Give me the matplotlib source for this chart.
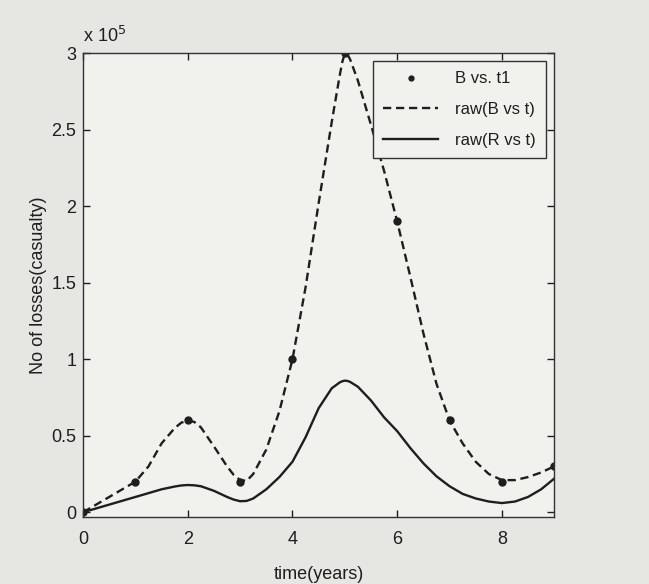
import numpy as np
import matplotlib.pyplot as plt

plt.rcParams['font.family'] = ['Liberation Sans', 'DejaVu Sans']

# sample points (values in units of 1e5)
t1 = [0, 1, 2, 3, 4, 5, 6, 7, 8, 9]
B = [0, 0.2, 0.6, 0.2, 1.0, 3.0, 1.9, 0.6, 0.2, 0.3]

# curves
t = [0, 0.25, 0.5, 0.75, 1, 1.25, 1.5, 1.75, 1.875, 2, 2.125, 2.25, 2.5, 2.75,
     2.875, 3, 3.125, 3.25, 3.5, 3.75, 4, 4.25, 4.5, 4.75, 4.9, 4.95, 5, 5.05,
     5.1, 5.25, 5.5, 5.75, 6, 6.25, 6.5, 6.75, 7, 7.25, 7.5, 7.75, 8, 8.25, 8.5,
     8.75, 9]
raw_B = [0, 0.05, 0.10, 0.15, 0.20, 0.30, 0.45, 0.55, 0.585, 0.60, 0.59, 0.555,
         0.43, 0.30, 0.245, 0.21, 0.205, 0.25, 0.41, 0.66, 1.00, 1.47, 2.02,
         2.55, 2.85, 2.94, 3.00, 2.99, 2.96, 2.82, 2.53, 2.23, 1.90, 1.54, 1.17,
         0.84, 0.60, 0.45, 0.33, 0.25, 0.21, 0.21, 0.23, 0.26, 0.30]
raw_R = [0, 0.025, 0.05, 0.075, 0.10, 0.125, 0.15, 0.168, 0.175, 0.178, 0.176,
         0.17, 0.14, 0.10, 0.083, 0.072, 0.074, 0.09, 0.15, 0.23, 0.33, 0.49,
         0.68, 0.81, 0.848, 0.856, 0.86, 0.858, 0.852, 0.82, 0.73, 0.62, 0.53,
         0.42, 0.32, 0.235, 0.17, 0.12, 0.09, 0.07, 0.06, 0.07, 0.10, 0.15, 0.22]

ink = '#1e1e1e'

fig = plt.figure(figsize=(6.49, 5.84), dpi=100, facecolor='#e6e6e3')
ax = fig.add_axes([0.128, 0.115, 0.726, 0.794])
ax.set_facecolor('#f1f1ee')

ax.plot(t1, B, 'o', color=ink, markersize=5, label='B vs. t1')
ax.plot(t, raw_B, '--', color=ink, lw=1.7, dashes=(3.5, 2), label='raw(B vs t)')
ax.plot(t, raw_R, '-', color=ink, lw=1.7, label='raw(R vs t)')

ax.set_xlim(0, 9)
ax.set_ylim(-0.03, 3.0)
ax.set_xticks([0, 2, 4, 6, 8])
ax.set_yticks([0, 0.5, 1, 1.5, 2, 2.5, 3])
ax.set_yticklabels(['0', '0.5', '1', '1.5', '2', '2.5', '3'])
ax.tick_params(direction='in', top=True, right=True, length=5, width=1,
               labelsize=13, colors=ink)
ax.tick_params(axis='x', pad=10)
ax.tick_params(axis='y', pad=5)
for s in ax.spines.values():
    s.set_color('#333333')
    s.set_linewidth(1)

ax.set_xlabel('time(years)', fontsize=13, color=ink, labelpad=13)
ax.set_ylabel('No of losses(casualty)', fontsize=13, color=ink, labelpad=3)
ax.text(0, 1.015, 'x 10$^5$', transform=ax.transAxes, fontsize=13,
        color=ink, ha='left', va='bottom')

leg = ax.legend(loc='upper right', fontsize=12, handlelength=3.3,
                handletextpad=1.0, labelspacing=0.95, borderpad=0.6,
                fancybox=False, framealpha=1, facecolor='#f1f1ee',
                edgecolor='#333333', markerscale=0.7, borderaxespad=0.5)
for txt in leg.get_texts():
    txt.set_color(ink)

fig.savefig('out.png', dpi=100, facecolor=fig.get_facecolor())
